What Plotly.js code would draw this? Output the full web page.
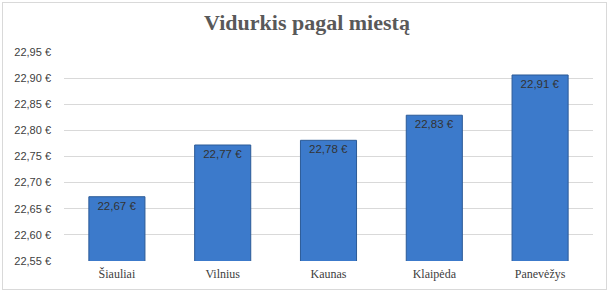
<!DOCTYPE html>
<html>
<head>
<meta charset="utf-8">
<script src="https://cdn.plot.ly/plotly-3.0.1.min.js"></script>
<style>
  html, body { margin: 0; padding: 0; background: #ffffff; }
  #frame { position: absolute; left: 2px; top: 2px; width: 605px; height: 288px; border: 1px solid #d9d9d9; box-sizing: border-box; pointer-events: none; z-index: 5; }
  #chart { width: 614px; height: 298px; }
</style>
</head>
<body>
<div id="frame"></div>
<div id="chart"></div>
<script>
const cities = ["Šiauliai", "Vilnius", "Kaunas", "Klaipėda", "Panevėžys"];
const averages = [22.673, 22.772, 22.781, 22.829, 22.906];
const yTickValues = [22.55, 22.60, 22.65, 22.70, 22.75, 22.80, 22.85, 22.90, 22.95];
const yTickLabels = ["22,55 €", "22,60 €", "22,65 €", "22,70 €", "22,75 €", "22,80 €", "22,85 €", "22,90 €", "22,95 €"];

const trace = {
  type: "bar",
  x: cities,
  y: averages,
  marker: { color: "#3c7acb", line: { color: "#2b5a97", width: 1 } },
  texttemplate: "%{y:.2f} €",
  textposition: "inside",
  insidetextanchor: "end",
  textangle: 0,
  constraintext: "none",
  insidetextfont: { family: "Liberation Sans, Arial, sans-serif", size: 11.5, color: "#333333" },
  hoverinfo: "skip"
};

const layout = {
  width: 614,
  height: 298,
  separators: ", ",
  margin: { l: 64, r: 21, t: 52, b: 37, pad: 0 },
  paper_bgcolor: "#ffffff",
  plot_bgcolor: "#ffffff",
  bargap: 0.47,
  showlegend: false,
  title: {
    text: "<b>Vidurkis pagal miestą</b>",
    font: { family: "Liberation Serif, Times New Roman, serif", size: 22, color: "#595959" },
    x: 0.5, xanchor: "center", xref: "container",
    y: 0.925, yanchor: "middle", yref: "container"
  },
  xaxis: {
    type: "category",
    showgrid: false,
    showline: false,
    zeroline: false,
    ticks: "",
    tickfont: { family: "Liberation Serif, Times New Roman, serif", size: 12, color: "#404040" },
    ticklabelstandoff: 4
  },
  yaxis: {
    range: [22.55, 22.95],
    tickmode: "array",
    tickvals: yTickValues,
    ticktext: yTickLabels,
    showgrid: true,
    gridcolor: "#d9d9d9",
    gridwidth: 1,
    zeroline: false,
    showline: false,
    ticks: "",
    ticklabelstandoff: 12,
    tickfont: { family: "Liberation Sans, Arial, sans-serif", size: 11, color: "#404040" }
  }
};

Plotly.newPlot("chart", [trace], layout, { displayModeBar: false, staticPlot: true });
</script>
</body>
</html>
